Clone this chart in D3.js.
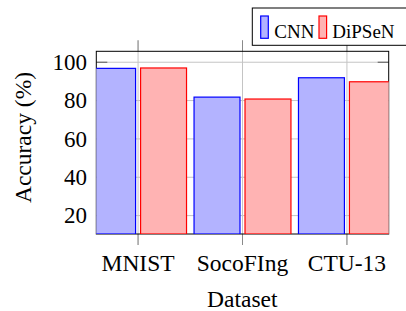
<!DOCTYPE html>
<html>
<head>
<meta charset="utf-8">
<script src="https://cdn.jsdelivr.net/npm/d3@7"></script>
<style>
  body { margin: 0; background: #fff; }
</style>
</head>
<body>
<svg id="chart" width="406" height="311"></svg>
<script>
// DATA
const datasets = ["MNIST", "SocoFIng", "CTU-13"];
const seriesNames = ["CNN", "DiPSeN"];
const cnnAcc = [96.8, 81.8, 91.9];
const dipsenAcc = [97.0, 80.8, 89.8];
const yTicks = [20, 40, 60, 80, 100];

const colors = {
  CNN: { fill: "#b3b3ff", stroke: "#0000ff" },
  DiPSeN: { fill: "#ffb3b3", stroke: "#ff0000" }
};
const serif = "'Liberation Serif', 'Times New Roman', Times, serif";

// SETUP
const plot = { left: 96.3, right: 388.7, top: 51.3, bottom: 234 };
const svg = d3.select("#chart");

// SCALES
const x = d3.scaleLinear().domain([-0.4, 2.4]).range([plot.left, plot.right]);
const y = d3.scaleLinear().domain([10.4, 105.7]).range([plot.bottom, plot.top]);
const barW = 0.44, barOff = 0.244;

// clip for bars
svg.append("clipPath").attr("id", "clip")
  .append("rect")
  .attr("x", plot.left).attr("y", plot.top)
  .attr("width", plot.right - plot.left).attr("height", plot.bottom - plot.top);

// GRID
svg.append("g")
  .selectAll("line")
  .data(yTicks)
  .join("line")
  .attr("x1", plot.left).attr("x2", plot.right)
  .attr("y1", d => y(d)).attr("y2", d => y(d))
  .attr("stroke", "#c4c4c4").attr("stroke-width", 1);

svg.append("g")
  .selectAll("line")
  .data(datasets)
  .join("line")
  .attr("x1", (d, i) => x(i)).attr("x2", (d, i) => x(i))
  .attr("y1", plot.top - 11).attr("y2", plot.bottom + 11)
  .attr("stroke", "#c4c4c4").attr("stroke-width", 1);

// outer x ticks (a bit darker)
datasets.forEach((d, i) => {
  [[plot.top - 11, plot.top], [plot.bottom, plot.bottom + 11]].forEach(([a, b]) => {
    svg.append("line")
      .attr("x1", x(i)).attr("x2", x(i)).attr("y1", a).attr("y2", b)
      .attr("stroke", "#8a8a8a").attr("stroke-width", 1);
  });
});

// y ticks inside
svg.append("g")
  .selectAll("g")
  .data(yTicks)
  .join("g")
  .each(function(d) {
    const g = d3.select(this);
    g.append("line").attr("x1", plot.left).attr("x2", plot.left + 11)
      .attr("y1", y(d)).attr("y2", y(d)).attr("stroke", "#555");
    g.append("line").attr("x1", plot.right - 11).attr("x2", plot.right)
      .attr("y1", y(d)).attr("y2", y(d)).attr("stroke", "#555");
  });

// FRAME
svg.append("rect")
  .attr("x", plot.left).attr("y", plot.top)
  .attr("width", plot.right - plot.left).attr("height", plot.bottom - plot.top)
  .attr("fill", "none").attr("stroke", "#000").attr("stroke-width", 1);

// BARS
const bars = svg.append("g").attr("clip-path", "url(#clip)");
[cnnAcc, dipsenAcc].forEach((vals, s) => {
  const name = seriesNames[s];
  bars.selectAll(null)
    .data(vals)
    .join("rect")
    .attr("x", (d, i) => x(i + (s === 0 ? -barOff : barOff) - barW / 2))
    .attr("width", x(barW) - x(0))
    .attr("y", d => y(d))
    .attr("height", d => y(y.domain()[0]) - y(d))
    .attr("fill", colors[name].fill)
    .attr("stroke", colors[name].stroke)
    .attr("stroke-width", 1.2);
});

// AXIS LABELS
svg.append("g")
  .selectAll("text")
  .data(yTicks)
  .join("text")
  .attr("x", 87)
  .attr("y", d => y(d))
  .attr("dy", "0.34em")
  .attr("text-anchor", "end")
  .attr("font-family", serif)
  .attr("font-size", 23)
  .text(d => d);

svg.append("g")
  .selectAll("text")
  .data(datasets)
  .join("text")
  .attr("x", (d, i) => x(i))
  .attr("y", 271)
  .attr("text-anchor", "middle")
  .attr("font-family", serif)
  .attr("font-size", 23.5)
  .text(d => d);

svg.append("text")
  .attr("x", 242.3).attr("y", 307)
  .attr("text-anchor", "middle")
  .attr("font-family", serif)
  .attr("font-size", 23.5)
  .text("Dataset");

svg.append("text")
  .attr("transform", "translate(30.5,137.5) rotate(-90)")
  .attr("text-anchor", "middle")
  .attr("font-family", serif)
  .attr("font-size", 23.5)
  .text("Accuracy (%)");

// LEGEND
const legend = svg.append("g");
legend.append("rect")
  .attr("x", 252.3).attr("y", 8).attr("width", 160).attr("height", 37.3)
  .attr("fill", "#fff").attr("stroke", "#000").attr("stroke-width", 1);
const legendX = [[260.7, 274.3], [319, 332.3]];
seriesNames.forEach((name, i) => {
  legend.append("rect")
    .attr("x", legendX[i][0]).attr("y", 16)
    .attr("width", 7.6).attr("height", 22.3)
    .attr("fill", colors[name].fill)
    .attr("stroke", colors[name].stroke).attr("stroke-width", 1.2);
  legend.append("text")
    .attr("x", legendX[i][1]).attr("y", 37.8)
    .attr("font-family", serif)
    .attr("font-size", 19)
    .text(name);
});
</script>
</body>
</html>
